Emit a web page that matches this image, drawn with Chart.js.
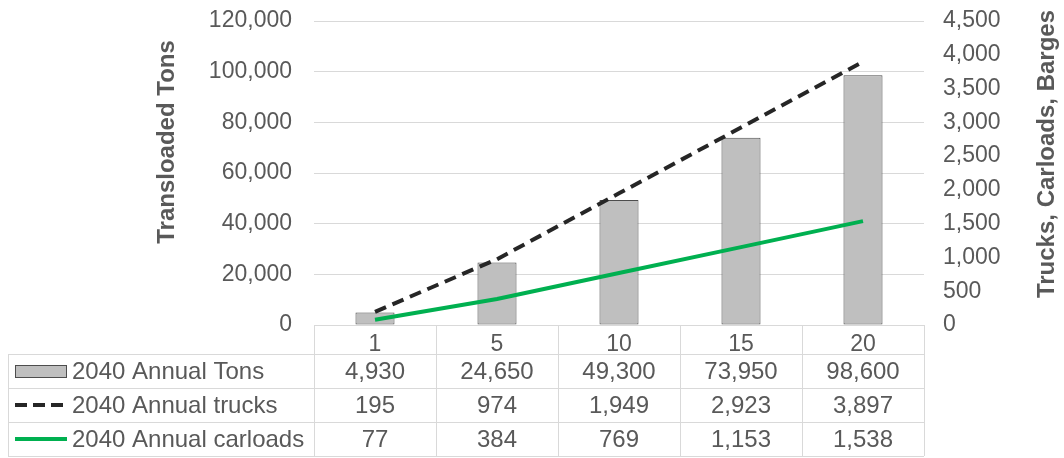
<!DOCTYPE html>
<html><head><meta charset="utf-8">
<script src="https://cdn.jsdelivr.net/npm/chart.js@4.4.0/dist/chart.umd.min.js"></script>
<style>html,body{margin:0;padding:0;background:#fff;overflow:hidden}#wrap{position:relative;width:1064px;height:458px}</style>
</head><body><div id="wrap"><canvas id="c" width="1064" height="458"></canvas></div>
<script>
const categories = ['1', '5', '10', '15', '20'];
const tons = [4930, 24650, 49300, 73950, 98600];
const trucks = [195, 974, 1949, 2923, 3897];
const carloads = [77, 384, 769, 1153, 1538];
const seriesNames = ['2040 Annual Tons', '2040 Annual trucks', '2040 Annual carloads'];
const leftTitle = 'Transloaded Tons';
const rightTitle = 'Trucks, Carloads, Barges';

const FONT = '"Liberation Sans", Arial, sans-serif';
const TXT = '#595959';
const GRID = '#d9d9d9';
const fmt = v => v.toLocaleString('en-US');

const tablePlugin = {
  id: 'dataTable',
  afterDraw(chart) {
    const ctx = chart.ctx, ca = chart.chartArea, xs = chart.scales.x;
    const n = categories.length, cw = (ca.right - ca.left) / n;
    const rowTop = ca.bottom + 29, rowH = 34, bottom = rowTop + 3 * rowH;
    const leftEdge = 8;
    ctx.save();
    ctx.strokeStyle = GRID; ctx.lineWidth = 1;
    ctx.beginPath();
    for (let k = 0; k <= 3; k++) {
      const y = Math.round(rowTop + k * rowH) + 0.5;
      ctx.moveTo(leftEdge, y); ctx.lineTo(ca.right, y);
    }
    for (let i = 0; i <= n; i++) {
      const x = Math.round(ca.left + i * cw) + 0.5;
      ctx.moveTo(x, ca.bottom); ctx.lineTo(x, bottom);
    }
    ctx.moveTo(leftEdge + 0.5, rowTop); ctx.lineTo(leftEdge + 0.5, bottom);
    ctx.stroke();

    // legend keys
    const ds = chart.data.datasets;
    const kx0 = 15, kx1 = 67;
    let cy = rowTop + rowH / 2;
    ctx.fillStyle = ds[0].backgroundColor; ctx.strokeStyle = ds[0].borderColor; ctx.lineWidth = 1;
    ctx.fillRect(kx0, cy - 6, kx1 - kx0, 12);
    ctx.strokeRect(kx0 + 0.5, cy - 6 + 0.5, kx1 - kx0 - 1, 12);
    cy += rowH;
    ctx.strokeStyle = ds[1].borderColor; ctx.lineWidth = 4; ctx.setLineDash([12, 6]);
    ctx.beginPath(); ctx.moveTo(kx0, cy); ctx.lineTo(kx1, cy); ctx.stroke();
    ctx.setLineDash([]);
    cy += rowH;
    ctx.strokeStyle = ds[2].borderColor; ctx.lineWidth = 4;
    ctx.beginPath(); ctx.moveTo(kx0, cy); ctx.lineTo(kx1, cy); ctx.stroke();

    ctx.font = '24px ' + FONT; ctx.fillStyle = TXT; ctx.textBaseline = 'middle';
    const rows = [tons, trucks, carloads];
    for (let k = 0; k < 3; k++) {
      const y = rowTop + k * rowH + rowH / 2 + 1;
      ctx.textAlign = 'left';
      ctx.fillText(seriesNames[k], 72, y);
      ctx.textAlign = 'center';
      rows[k].forEach((v, i) => ctx.fillText(fmt(v), xs.getPixelForValue(i), y));
    }

    // axis titles
    ctx.font = 'bold 24px ' + FONT; ctx.fillStyle = TXT; ctx.textAlign = 'center';
    ctx.save(); ctx.translate(167, 142); ctx.rotate(-Math.PI / 2); ctx.fillText(leftTitle, 0, 0); ctx.restore();
    ctx.save(); ctx.translate(1047, 154); ctx.rotate(-Math.PI / 2); ctx.fillText(rightTitle, 0, 0); ctx.restore();
    ctx.restore();
  }
};

new Chart(document.getElementById('c'), {
  data: {
    labels: categories,
    datasets: [
      { type: 'bar', label: seriesNames[0], data: tons, yAxisID: 'y', order: 3,
        backgroundColor: '#bfbfbf', borderColor: '#4d4d4d', borderWidth: 1, borderSkipped: false,
        barPercentage: 0.32, categoryPercentage: 1.0 },
      { type: 'line', label: seriesNames[1], data: trucks, yAxisID: 'y1', order: 1,
        borderColor: '#262626', borderWidth: 4, borderDash: [12, 7], pointRadius: 0, tension: 0, fill: false },
      { type: 'line', label: seriesNames[2], data: carloads, yAxisID: 'y1', order: 2,
        borderColor: '#00b050', borderWidth: 4, pointRadius: 0, tension: 0, fill: false }
    ]
  },
  options: {
    responsive: false, animation: false, devicePixelRatio: 1,
    layout: { padding: { top: 21, left: 0, right: 0, bottom: 0 } },
    plugins: { legend: { display: false }, tooltip: { enabled: false } },
    scales: {
      x: {
        grid: { display: false }, border: { display: false },
        ticks: { font: { family: FONT, size: 23 }, color: TXT, padding: -2, maxRotation: 0 },
        afterFit: s => { s.height = 133; s.paddingLeft = 0; s.paddingRight = 0; }
      },
      y: {
        position: 'left', min: 0, max: 120000,
        ticks: { stepSize: 20000, font: { family: FONT, size: 23 }, color: TXT, padding: 22, callback: v => fmt(v) },
        grid: { color: GRID, drawTicks: false }, border: { display: false },
        afterFit: s => { s.width = 314; s.paddingTop = 0; s.paddingBottom = 0; }
      },
      y1: {
        position: 'right', min: 0, max: 4500,
        ticks: { stepSize: 500, font: { family: FONT, size: 23 }, color: TXT, padding: 19, callback: v => fmt(v) },
        grid: { display: false, drawTicks: false }, border: { display: false },
        afterFit: s => { s.width = 140; s.paddingTop = 0; s.paddingBottom = 0; }
      }
    }
  },
  plugins: [tablePlugin]
});
</script></body></html>
